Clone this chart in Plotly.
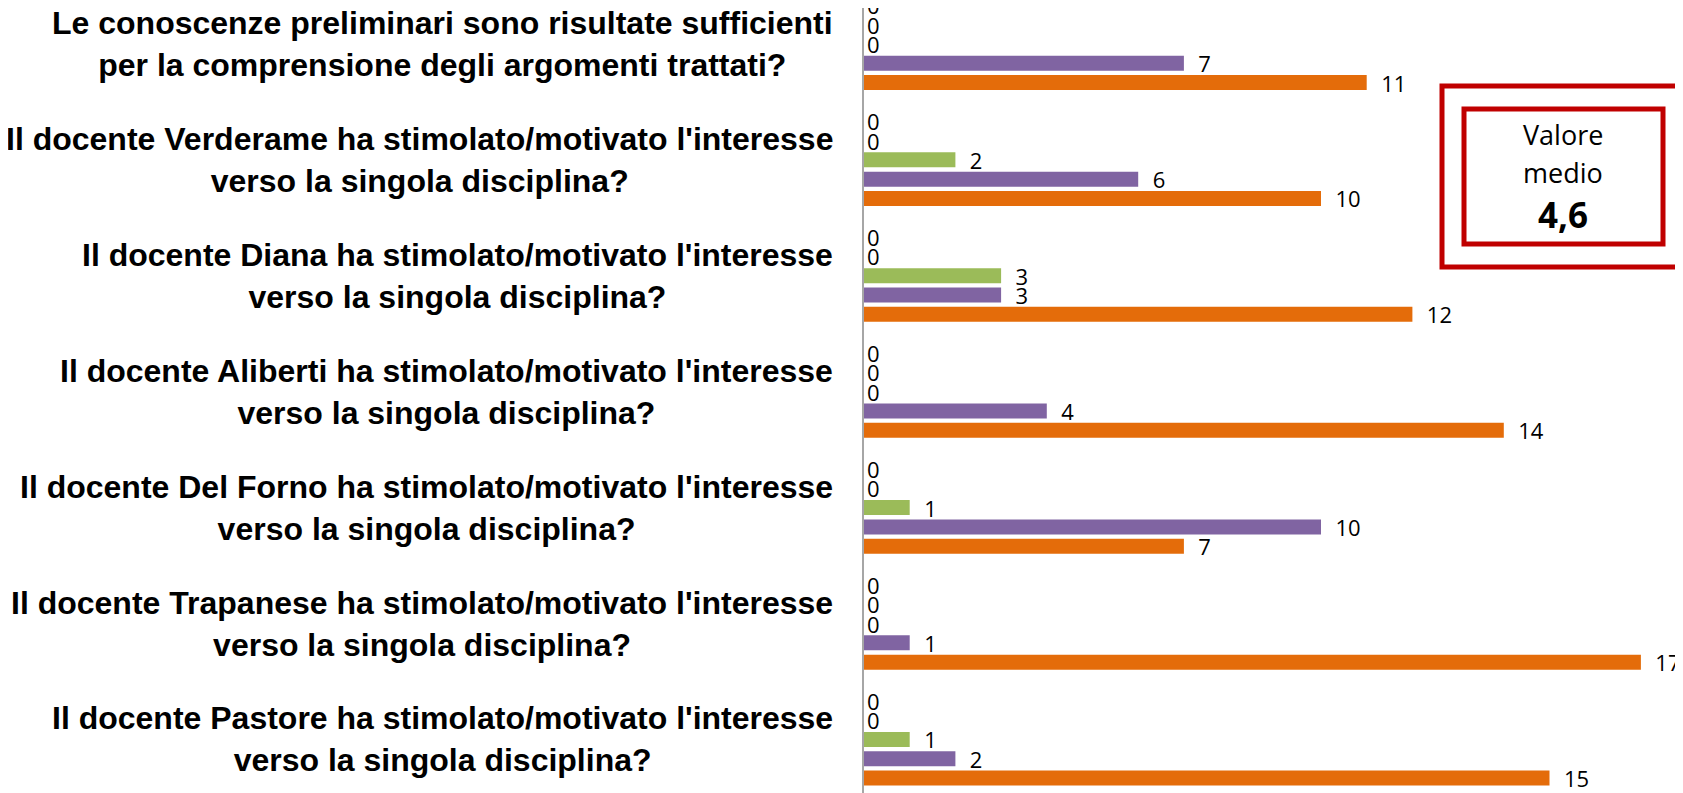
import plotly.graph_objects as go

categories = [
    "Le conoscenze preliminari sono risultate sufficienti<br>per la comprensione degli argomenti trattati?",
    "Il docente Verderame ha stimolato/motivato l'interesse<br>verso la singola disciplina?",
    "Il docente Diana ha stimolato/motivato l'interesse<br>verso la singola disciplina?",
    "Il docente Aliberti ha stimolato/motivato l'interesse<br>verso la singola disciplina?",
    "Il docente Del Forno ha stimolato/motivato l'interesse<br>verso la singola disciplina?",
    "Il docente Trapanese ha stimolato/motivato l'interesse<br>verso la singola disciplina?",
    "Il docente Pastore ha stimolato/motivato l'interesse<br>verso la singola disciplina?",
]
series_names = ["1", "2", "3", "4", "5"]
s1 = [0, 0, 0, 0, 0, 0, 0]
s2 = [0, 0, 0, 0, 0, 0, 0]
s3 = [0, 2, 3, 0, 1, 0, 1]
s4 = [7, 6, 3, 4, 10, 1, 2]
s5 = [11, 10, 12, 14, 7, 17, 15]
colors = ["#4F81BD", "#C0504D", "#9BBB59", "#8064A2", "#E46C0A"]
box_title_lines = ["Valore", "medio"]
box_value = "4,6"

# the page body adds an 8px margin, so figure coords = window coords - 8
OFF = 8
W, H = 1683, 793
L = 864 - OFF
plot_w = W - L
px_per_unit = 45.7
band = 115.93
top_c = -(43.9 - OFF) / band
bot_c = top_c + H / band

fig = go.Figure()
ids = list(range(len(categories)))
for name, vals, col in zip(series_names, [s1, s2, s3, s4, s5], colors):
    txt = [("\u00a0\u00a0" + str(v)) if v else str(v) for v in vals]
    fig.add_trace(go.Bar(
        y=ids, x=vals, name=name, orientation="h",
        marker=dict(color=col, line=dict(width=0)),
        text=txt, textposition="outside", constraintext="none",
        outsidetextfont=dict(family="Open Sans", size=22, color="black"),
        cliponaxis=True,
    ))

fig.update_layout(
    width=W, height=H,
    margin=dict(l=L, r=0, t=0, b=0),
    paper_bgcolor="white", plot_bgcolor="white",
    barmode="group", bargap=0.1676, bargroupgap=0.223,
    showlegend=False,
    xaxis=dict(range=[0, plot_w / px_per_unit], showticklabels=False,
               showgrid=False, zeroline=False, showline=False, ticks=""),
    yaxis=dict(range=[bot_c, top_c], showticklabels=False, showgrid=False,
               zeroline=False, showline=True, linecolor="#A6A6A6", linewidth=2,
               ticks="", tickmode="array", tickvals=ids),
)

for i, cat in enumerate(categories):
    fig.add_annotation(
        x=0, xref="paper", xshift=-29, xanchor="right",
        y=i, yref="y", yanchor="middle",
        text=cat, align="center", showarrow=False,
        font=dict(family="Liberation Sans", size=32, color="black", weight="bold"),
    )

def px2x(p):
    return (p - OFF - L) / plot_w

def py2y(p):
    return 1 - (p - OFF) / H

fig.add_shape(type="rect", xref="paper", yref="paper",
              x0=px2x(1442), x1=px2x(1682), y0=py2y(86), y1=py2y(267),
              line=dict(color="#C00000", width=5), fillcolor="rgba(0,0,0,0)")
fig.add_shape(type="rect", xref="paper", yref="paper",
              x0=px2x(1464), x1=px2x(1663), y0=py2y(109), y1=py2y(244),
              line=dict(color="#C00000", width=5), fillcolor="white")
for line_text, yc in zip(box_title_lines, [134, 172]):
    fig.add_annotation(x=px2x(1563), y=py2y(yc), xref="paper", yref="paper",
                       text=line_text, showarrow=False, align="center",
                       xanchor="center", yanchor="middle",
                       font=dict(family="Open Sans", size=27, color="black"))
fig.add_annotation(x=px2x(1563), y=py2y(214), xref="paper", yref="paper",
                   text=box_value, showarrow=False, align="center",
                   xanchor="center", yanchor="middle",
                   font=dict(family="Open Sans", size=35, color="black", weight="bold"))

fig.write_html("out.html")
